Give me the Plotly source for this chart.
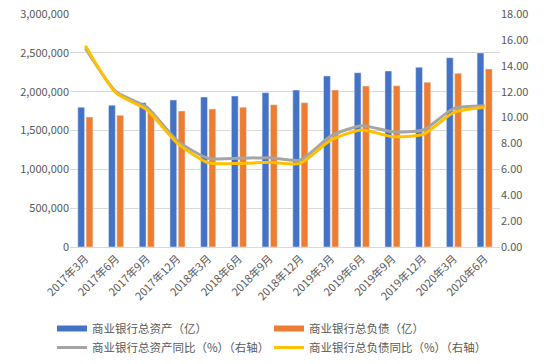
import plotly.graph_objects as go

categories = ["2017年3月", "2017年6月", "2017年9月", "2017年12月", "2018年3月", "2018年6月",
              "2018年9月", "2018年12月", "2019年3月", "2019年6月", "2019年9月", "2019年12月",
              "2020年3月", "2020年6月"]
total_assets = [1800000, 1825000, 1858000, 1893000, 1931000, 1944000, 1987000,
                2021000, 2202000, 2244000, 2266000, 2314000, 2437000, 2498000]
total_liabilities = [1674000, 1696000, 1735000, 1751000, 1777000, 1799000, 1832000,
                     1858000, 2021000, 2073000, 2077000, 2120000, 2236000, 2292000]
assets_yoy = [15.35, 12.0, 10.8, 8.2, 6.85, 6.85, 6.9, 6.72, 8.58, 9.37, 8.9, 9.04, 10.71, 10.92]
liab_yoy = [15.55, 11.9, 10.6, 8.0, 6.51, 6.46, 6.54, 6.46, 8.27, 9.04, 8.52, 8.71, 10.40, 10.79]

names = ["商业银行总资产（亿）", "商业银行总负债（亿）",
         "商业银行总资产同比（%）（右轴）", "商业银行总负债同比（%）（右轴）"]
BLUE, ORANGE, GRAY, YELLOW = "#4472C4", "#ED7D31", "#A5A5A5", "#FFC000"
FONT = "Noto Sans CJK SC"
TXT = "#595959"

W, H = 550, 364

fig = go.Figure()
fig.add_trace(go.Bar(x=categories, y=total_assets, marker_color=BLUE, name=names[0], showlegend=False))
fig.add_trace(go.Bar(x=categories, y=total_liabilities, marker_color=ORANGE, name=names[1], showlegend=False))
fig.add_trace(go.Scatter(x=categories, y=assets_yoy, yaxis="y2", mode="lines", line=dict(color=GRAY, width=3, shape="spline", smoothing=0.6), showlegend=False))
fig.add_trace(go.Scatter(x=categories, y=liab_yoy, yaxis="y2", mode="lines", line=dict(color=YELLOW, width=3, shape="spline", smoothing=0.6), showlegend=False))

# legend entries (two columns via two legends)
for nm, col, w, lg in [(names[0], BLUE, 6, "legend"), (names[2], GRAY, 3, "legend"),
                       (names[1], ORANGE, 6, "legend2"), (names[3], YELLOW, 3, "legend2")]:
    fig.add_trace(go.Scatter(x=[None], y=[None], mode="lines", line=dict(color=col, width=w),
                             name=nm, showlegend=True, legend=lg))

leg_common = dict(orientation="v", xref="container", yref="container", xanchor="left", yanchor="top",
                  font=dict(size=11.5, color=TXT), itemwidth=30, tracegroupgap=0,
                  bgcolor="rgba(0,0,0,0)")

fig.update_layout(
    width=W, height=H,
    margin=dict(l=70, r=50, t=14, b=117, autoexpand=False),
    paper_bgcolor="white", plot_bgcolor="white",
    font=dict(family=FONT, size=11, color=TXT),
    barmode="group", bargap=0.46, bargroupgap=0.18,
    xaxis=dict(tickangle=-45, showline=True, linecolor="#d9d9d9", linewidth=1, automargin=False,
               showgrid=False, tickfont=dict(size=11, color=TXT), ticks=""),
    yaxis=dict(range=[0, 3000000], dtick=500000, tickformat=",d", showgrid=True, automargin=False,
               gridcolor="#d9d9d9", zeroline=False, tickfont=dict(size=11, color=TXT),
               ticks="", ticklen=0),
    yaxis2=dict(range=[0, 18], dtick=2, tickformat=".2f", overlaying="y", side="right", automargin=False,
                showgrid=False, zeroline=False, tickfont=dict(size=11, color=TXT)),
    legend=dict(x=52 / W, y=1 - 314 / H, **leg_common),
    legend2=dict(x=269 / W, y=1 - 314 / H, **leg_common),
    showlegend=True,
)

fig.write_html("out.html", config={"displayModeBar": False},
               post_script="document.body.style.margin='0';")
